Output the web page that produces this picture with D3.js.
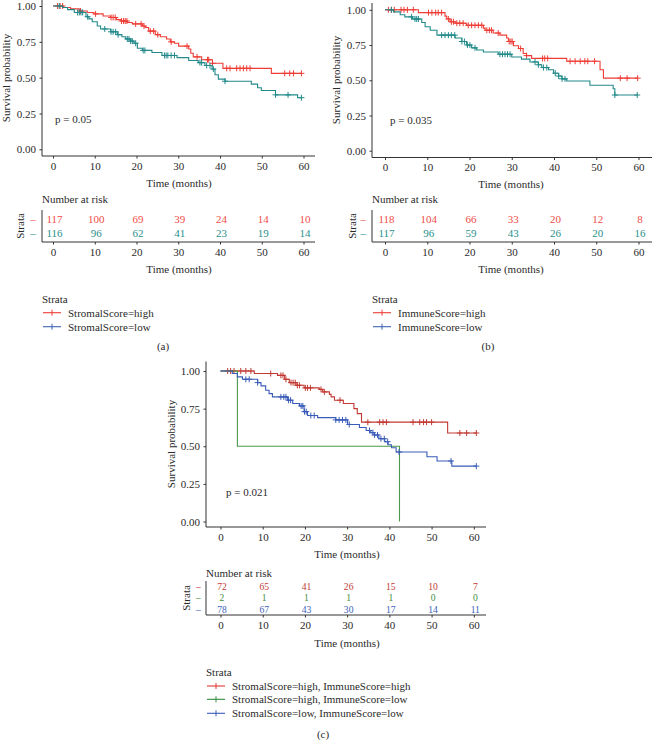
<!DOCTYPE html>
<html><head><meta charset="utf-8">
<script src="https://cdn.jsdelivr.net/npm/d3@7"></script>
<style>body{margin:0;background:#fff}svg{display:block}</style>
</head><body>
<script>
// ---------- DATA ----------
const timeTicks = [0, 10, 20, 30, 40, 50, 60];
const survTicks = [0, 0.25, 0.5, 0.75, 1];

// Panel (a) StromalScore
const stromalHighCurve = [[0,1],[2.5,0.99],[4.2,0.98],[6.3,0.965],[8.2,0.955],[9.8,0.945],[12,0.93],[13.8,0.92],[15.2,0.905],[16.3,0.895],[17.8,0.885],[19,0.875],[21.4,0.86],[22.1,0.85],[22.9,0.825],[24.5,0.80],[25.7,0.785],[27.2,0.77],[28.1,0.75],[29.1,0.74],[30.1,0.72],[32.5,0.70],[33,0.67],[33.6,0.645],[35.6,0.625],[38.2,0.60],[40.7,0.565],[52.3,0.53],[59.5,0.53]];
const stromalHighCensor = [1.1,1.7,2.3,6.6,10.2,13.9,14.4,14.9,16.4,16.9,17.3,17.7,19.8,21.1,21.8,23.3,24.1,25.1,28.3,32.1,34.5,37,37.3,38.2,41.6,42.4,44,44.8,45.6,46.4,47.2,55.5,56.7,57.6,59.5];
const stromalLowCurve = [[0,1],[2.3,0.99],[3.5,0.975],[5.1,0.955],[7.9,0.925],[8.6,0.91],[9.4,0.89],[10.6,0.86],[11.4,0.84],[13.8,0.82],[15.4,0.80],[16.5,0.785],[17.4,0.77],[18.6,0.755],[19.4,0.74],[20.2,0.705],[21.4,0.69],[23.7,0.675],[26.1,0.655],[29.7,0.64],[32.5,0.62],[34.8,0.605],[36.4,0.585],[38.1,0.56],[38.8,0.52],[39.6,0.49],[41.2,0.475],[47.5,0.455],[49,0.43],[49.9,0.41],[53.3,0.38],[58.6,0.36],[59.5,0.36]];
const stromalLowCensor = [1.5,5.9,6.3,6.7,7.1,8.3,12.4,13.9,14.4,15,15.6,17.8,18.2,18.6,19,19.8,21.6,22,26.7,27.1,27.5,28.3,29.1,35.2,35.6,36.8,37.6,38.4,41.2,53.3,56.3,59.5];

// Panel (b) ImmuneScore
const immuneHighCurve = [[0,1],[7.9,0.98],[14.2,0.955],[14.6,0.935],[15.4,0.915],[16.6,0.905],[19.3,0.89],[23.3,0.87],[23.7,0.855],[25.6,0.835],[27.2,0.82],[28.8,0.80],[29.2,0.775],[30.4,0.745],[31.6,0.725],[32.7,0.69],[33.5,0.675],[34.7,0.655],[43,0.635],[50.9,0.575],[51.7,0.515],[59.8,0.515]];
const immuneHighCensor = [0.8,1.5,2.2,3.8,4.5,5.3,6.7,10.3,11.1,12,12.6,13.4,15,15.7,16.2,17,17.7,18.5,19.7,20.5,21.3,22.1,22.9,24.1,24.7,25.2,26.8,29.4,29.8,30.1,32.1,33.5,37.3,37.8,38.5,43.8,45,46.2,47.3,48,49.6,55.7,57.3,59.8];
const immuneLowCurve = [[0,1],[2,0.985],[3.6,0.965],[4.7,0.95],[6.5,0.935],[8.7,0.91],[9.5,0.88],[10.7,0.855],[12.3,0.82],[16.6,0.80],[18.2,0.775],[19.3,0.75],[20.5,0.73],[21.7,0.715],[23.3,0.70],[26.8,0.685],[30,0.665],[32.3,0.65],[34.3,0.63],[36.3,0.61],[37.1,0.59],[38.7,0.575],[39.9,0.55],[41.1,0.53],[41.9,0.51],[43,0.495],[48.5,0.465],[54,0.44],[54.4,0.395],[59.7,0.395]];
const immuneLowCensor = [1.5,6.3,7.1,7.5,7.9,13.4,14.2,15,15.7,16.5,18.2,18.8,19.5,20.1,21.3,27.2,27.8,28.4,29,29.6,35.5,36.3,37.5,38.3,40.3,41.1,41.9,42.6,54.4,59.7];

// Panel (c) combined
const highHighCurve = [[0,1],[8.0,0.983],[13.5,0.971],[15.2,0.945],[16.3,0.923],[17.9,0.905],[19.8,0.888],[23.4,0.878],[24.2,0.861],[25.8,0.845],[26.2,0.828],[27,0.806],[29.1,0.784],[31.6,0.75],[32.4,0.717],[33.4,0.66],[53.8,0.588],[60.6,0.588]];
const highHighCensor = [1.7,2.4,3.2,4.8,6,7.2,11.9,14.3,14.8,15.5,16.7,17.2,17.7,18.2,18.7,20.1,20.6,21.3,23.8,24.6,28.3,34.9,37.7,38.5,39.3,45.6,47.2,48.1,48.8,50,56.7,58.3,60.6];
const highLowCurve = [[0,1],[4.0,0.5],[42.4,0]];
const highLowCensor = [];
const lowLowCurve = [[0,1],[2.8,0.983],[4.0,0.961],[5.2,0.945],[8.8,0.923],[9.6,0.901],[10.7,0.872],[11.5,0.85],[12.3,0.828],[15.9,0.806],[17.1,0.784],[18.7,0.768],[19.8,0.73],[20.6,0.704],[23,0.69],[27.3,0.675],[30.1,0.645],[32.9,0.625],[34.5,0.605],[35.6,0.59],[36.4,0.575],[37.5,0.55],[38.9,0.53],[39.7,0.51],[40.5,0.49],[41.6,0.462],[48.9,0.43],[51.3,0.402],[54.8,0.368],[60.6,0.368]];
const lowLowCensor = [6,6.8,8.8,14.3,15,15.5,16.1,16.6,19.1,19.5,19.9,20.3,21.4,22.2,27.3,28.1,28.9,29.7,30.5,35.3,36.1,36.5,37.2,38,38.8,39.6,42.3,54.6,60.6];

// Numbers at risk
const riskStromalHigh = [117,100,69,39,24,14,10];
const riskStromalLow  = [116,96,62,41,23,19,14];
const riskImmuneHigh  = [118,104,66,33,20,12,8];
const riskImmuneLow   = [117,96,59,43,26,20,16];
const riskHighHigh    = [72,65,41,26,15,10,7];
const riskHighLow     = [2,1,1,1,1,0,0];
const riskLowLow      = [78,67,43,30,17,14,11];

const legendA = ["StromalScore=high", "StromalScore=low"];
const legendB = ["ImmuneScore=high", "ImmuneScore=low"];
const legendC = ["StromalScore=high, ImmuneScore=high", "StromalScore=high, ImmuneScore=low", "StromalScore=low, ImmuneScore=low"];
const pValues = ["p = 0.05", "p = 0.035", "p = 0.021"];
const panelLabels = ["(a)", "(b)", "(c)"];

// ---------- DRAW ----------
const FONT = "'Liberation Serif', 'Times New Roman', serif";
const TXT = "#2a2a2a", AX = "#333";
const W = 652, H = 740;
const svg = d3.select("body").append("svg").attr("width", W).attr("height", H)
  .style("font-family", FONT).style("font-size", "11px");

function survAt(curve, t) {
  let s = curve[0][1];
  for (const p of curve) { if (p[0] <= t) s = p[1]; else break; }
  return s;
}

function drawKM(cfg) {
  const g = svg.append("g");
  const x = d3.scaleLinear().domain([0, 60]).range(cfg.xr);
  const y = d3.scaleLinear().domain([0, 1]).range(cfg.yr);
  g.append("line").attr("x1", cfg.ax).attr("x2", cfg.ax).attr("y1", cfg.top).attr("y2", cfg.axY).attr("stroke", AX);
  g.append("line").attr("x1", cfg.ax).attr("x2", cfg.right).attr("y1", cfg.axY).attr("y2", cfg.axY).attr("stroke", AX);
  const xa = g.append("g").attr("transform", `translate(0,${cfg.axY})`)
    .call(d3.axisBottom(x).tickValues(timeTicks).tickSize(2.5).tickPadding(3.5).tickFormat(d3.format("d")));
  xa.select(".domain").remove();
  const ya = g.append("g").attr("transform", `translate(${cfg.ax},0)`)
    .call(d3.axisLeft(y).tickValues(survTicks).tickSize(2.5).tickPadding(3.5).tickFormat(d3.format(".2f")));
  ya.select(".domain").remove();
  g.selectAll(".tick line").attr("stroke", AX);
  g.selectAll(".tick text").attr("fill", TXT).style("font-family", FONT).style("font-size", "11px");
  g.append("text").attr("transform", `translate(${cfg.ylabX},${cfg.ylabY}) rotate(-90)`)
    .attr("text-anchor", "middle").attr("fill", TXT).text("Survival probability");
  g.append("text").attr("x", cfg.xlabX).attr("y", cfg.xlabY).attr("text-anchor", "middle").attr("fill", TXT).text("Time (months)");
  g.append("text").attr("x", cfg.pX).attr("y", cfg.pY).attr("fill", TXT).text(cfg.p);
  const line = d3.line().x(d => x(d[0])).y(d => y(d[1])).curve(d3.curveStepAfter);
  cfg.series.forEach(s => {
    g.append("path").attr("d", line(s.curve)).attr("fill", "none").attr("stroke", s.color).attr("stroke-width", 1.1);
    s.censor.forEach(t => {
      const cx = x(t), cy = y(survAt(s.curve, t));
      g.append("path").attr("d", `M${cx-3},${cy}H${cx+3}M${cx},${cy-3}V${cy+3}`)
        .attr("stroke", s.color).attr("stroke-width", 1);
    });
  });
  return x;
}

function drawRisk(cfg, x) {
  const g = svg.append("g");
  const fs = cfg.fs || 11;
  g.append("text").attr("x", cfg.ax).attr("y", cfg.titleY).attr("fill", TXT).text("Number at risk");
  g.append("line").attr("x1", cfg.ax).attr("x2", cfg.ax).attr("y1", cfg.vTop).attr("y2", cfg.axY).attr("stroke", AX);
  g.append("line").attr("x1", cfg.ax).attr("x2", cfg.right).attr("y1", cfg.axY).attr("y2", cfg.axY).attr("stroke", AX);
  const xa = g.append("g").attr("transform", `translate(0,${cfg.axY})`)
    .call(d3.axisBottom(x).tickValues(timeTicks).tickSize(2.5).tickPadding(3.5).tickFormat(d3.format("d")));
  xa.select(".domain").remove();
  xa.selectAll(".tick line").attr("stroke", AX);
  xa.selectAll(".tick text").attr("fill", TXT).style("font-family", FONT).style("font-size", "11px");
  g.append("text").attr("x", cfg.xlabX).attr("y", cfg.xlabY).attr("text-anchor", "middle").attr("fill", TXT).text("Time (months)");
  g.append("text").attr("transform", `translate(${cfg.strataX},${cfg.strataY}) rotate(-90)`)
    .attr("text-anchor", "middle").attr("fill", TXT).text("Strata");
  cfg.rows.forEach((r, i) => {
    const yy = cfg.rowY[i];
    g.append("text").attr("x", cfg.dashX).attr("y", yy).attr("text-anchor", "middle")
      .style("font-size", fs + "px").attr("fill", r.color).text("–");
    r.values.forEach((v, j) => {
      g.append("text").attr("x", x(timeTicks[j]) + 1.5).attr("y", yy).attr("text-anchor", "middle")
        .style("font-size", fs + "px").attr("fill", r.color).text(v);
    });
  });
}

function drawLegend(cfg) {
  const g = svg.append("g");
  g.append("text").attr("x", cfg.x).attr("y", cfg.titleY).attr("fill", TXT).text("Strata");
  cfg.items.forEach((it, i) => {
    const yy = cfg.itemY[i];
    const x1 = cfg.x + 1, x2 = cfg.x + 19, xm = (x1 + x2) / 2;
    g.append("line").attr("x1", x1).attr("x2", x2).attr("y1", yy).attr("y2", yy).attr("stroke", it.color).attr("stroke-width", 1.1);
    g.append("path").attr("d", `M${xm},${yy-3}V${yy+3}`).attr("stroke", it.color);
    g.append("text").attr("x", cfg.x + 26).attr("y", yy + 3.8).attr("fill", TXT).text(it.label);
  });
  g.append("text").attr("x", cfg.labX).attr("y", cfg.labY).attr("text-anchor", "middle").attr("fill", TXT).text(cfg.lab);
}

const RED = "#EE3D36", TEAL = "#22898A", LBLUE = "#3F62B0";
const RED_T = "#F04C47", TEAL_T = "#28908C";
const CRED = "#C23A33", CGREEN = "#4A994A", CBLUE = "#3A5CB8";

// Panel (a)
const xA = drawKM({ xr: [53, 303.5], yr: [149.3, 6], ax: 42, top: 0, axY: 156, right: 315,
  ylabX: 10, ylabY: 78, xlabX: 179, xlabY: 187, pX: 55, pY: 123, p: pValues[0],
  series: [{ curve: stromalHighCurve, censor: stromalHighCensor, color: RED },
           { curve: stromalLowCurve, censor: stromalLowCensor, color: TEAL }] });
drawRisk({ ax: 42, titleY: 203, vTop: 210, axY: 242, right: 315, xlabX: 179, xlabY: 273,
  strataX: 24, strataY: 226, dashX: 33, rowY: [222.5, 237],
  rows: [{ values: riskStromalHigh, color: RED_T }, { values: riskStromalLow, color: TEAL_T }] }, xA);
drawLegend({ x: 42, titleY: 302.5, itemY: [312.7, 326.7], lab: panelLabels[0], labX: 163, labY: 349.5,
  items: [{ label: legendA[0], color: RED }, { label: legendA[1], color: LBLUE }] });

// Panel (b)
const xB = drawKM({ xr: [385, 638.5], yr: [150.7, 9.8], ax: 372, top: 3, axY: 157.5, right: 652,
  ylabX: 340, ylabY: 80, xlabX: 511, xlabY: 187.5, pX: 390, pY: 124, p: pValues[1],
  series: [{ curve: immuneHighCurve, censor: immuneHighCensor, color: RED },
           { curve: immuneLowCurve, censor: immuneLowCensor, color: TEAL }] });
drawRisk({ ax: 372, titleY: 203, vTop: 210, axY: 242, right: 652, xlabX: 511, xlabY: 273,
  strataX: 355.7, strataY: 226, dashX: 363.3, rowY: [222.5, 237],
  rows: [{ values: riskImmuneHigh, color: RED_T }, { values: riskImmuneLow, color: TEAL_T }] }, xB);
drawLegend({ x: 372, titleY: 302.5, itemY: [312.7, 326.7], lab: panelLabels[1], labX: 488, labY: 349.5,
  items: [{ label: legendB[0], color: RED }, { label: legendB[1], color: LBLUE }] });

// Panel (c)
const xC = drawKM({ xr: [220.5, 473.8], yr: [521.5, 371], ax: 206, top: 361.5, axY: 527, right: 486,
  ylabX: 175, ylabY: 444, xlabX: 347, xlabY: 558, pX: 226, pY: 496, p: pValues[2],
  series: [{ curve: highHighCurve, censor: highHighCensor, color: CRED },
           { curve: highLowCurve, censor: highLowCensor, color: CGREEN },
           { curve: lowLowCurve, censor: lowLowCensor, color: CBLUE }] });
drawRisk({ ax: 206, titleY: 577, vTop: 581, axY: 615, right: 486, xlabX: 347, xlabY: 646.5,
  strataX: 190, strataY: 598, dashX: 198.3, rowY: [590.2, 601.4, 612.6], fs: 9.6,
  rows: [{ values: riskHighHigh, color: CRED }, { values: riskHighLow, color: "#3F8F3F" }, { values: riskLowLow, color: "#3D62B8" }] }, xC);
drawLegend({ x: 206, titleY: 675.5, itemY: [686, 699.3, 713.3], lab: panelLabels[2], labX: 323, labY: 738,
  items: [{ label: legendC[0], color: "#E03A33" }, { label: legendC[1], color: "#2E8B3E" }, { label: legendC[2], color: CBLUE }] });
</script>
</body></html>
